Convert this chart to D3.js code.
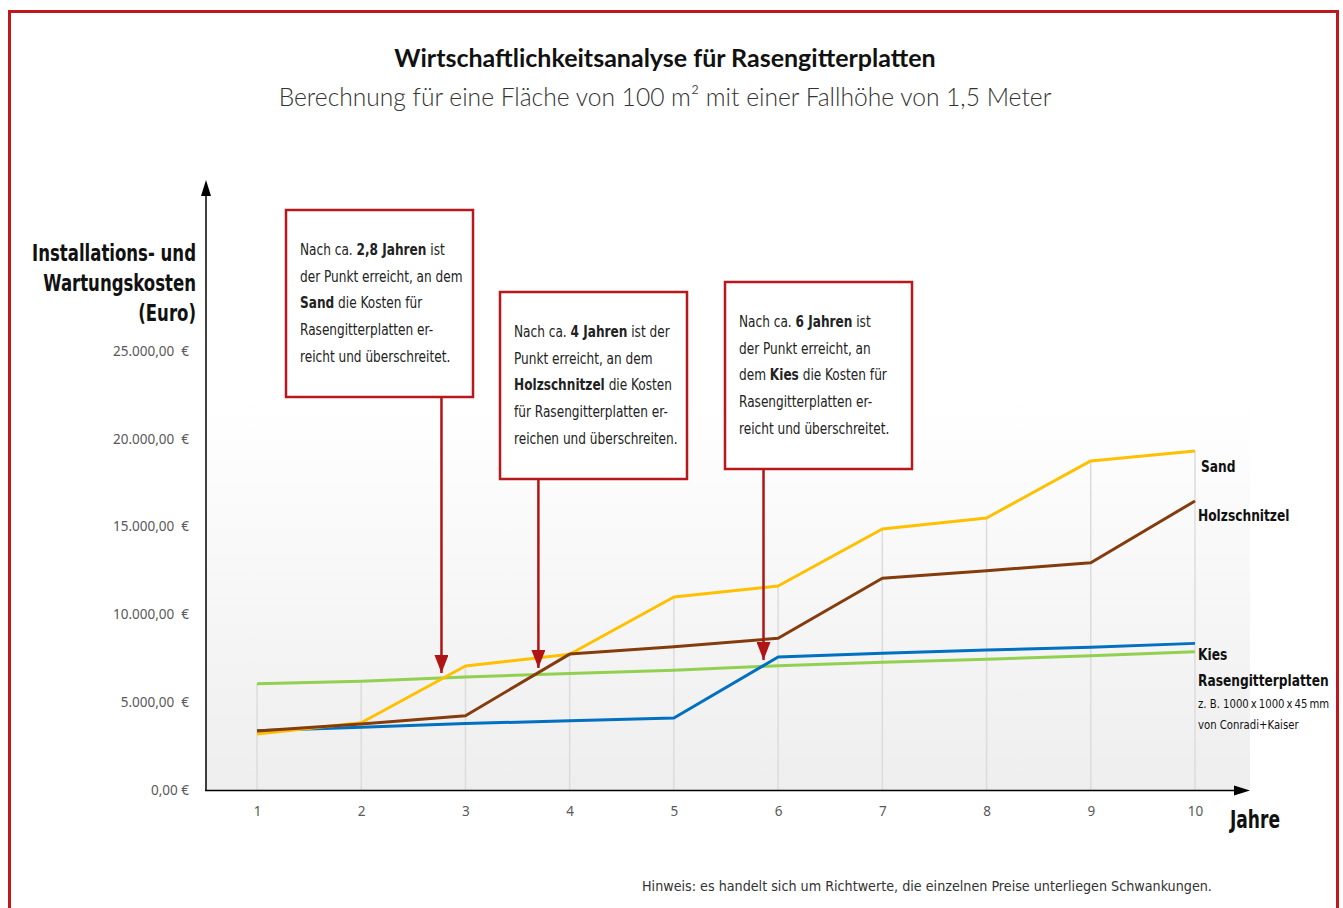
<!DOCTYPE html>
<html>
<head>
<meta charset="utf-8">
<script src="https://cdn.jsdelivr.net/npm/d3@7"></script>
<style>
  body { margin: 0; background: #fff; }
  svg { display: block; }
  .cond { font-family: "DejaVu Sans Condensed", "DejaVu Sans", sans-serif; }
</style>
</head>
<body>
<div id="chart"></div>
<script>
var width = 1343;
var height = 908;

// data
const years = [1, 2, 3, 4, 5, 6, 7, 8, 9, 10];
const sand = [3190, 3830, 7060, 7730, 10990, 11620, 14860, 15490, 18740, 19300];
const holz = [3360, 3760, 4230, 7740, 8160, 8640, 12060, 12490, 12940, 16460];
const kies = [3380, 3570, 3780, 3950, 4100, 7570, 7790, 7970, 8130, 8350];
const rasen = [6050, 6190, 6430, 6640, 6820, 7080, 7270, 7440, 7650, 7880];
const yTicks = [0, 5000, 10000, 15000, 20000, 25000];

const seriesNames = ["Rasengitterplatten", "Kies", "Sand", "Holzschnitzel"];
const seriesColors = ["#92d050", "#0070c0", "#ffc000", "#843c0c"];
const seriesValues = [rasen, kies, sand, holz];

// annotation arrows: year and value where the arrow tip points
const arrowYears = [2.77, 3.7, 5.86];
const arrowValues = [6660, 6950, 7400];
const boxTexts = [
  [[["Nach ca. ", 0], ["2,8 Jahren", 1], [" ist", 0]],
   [["der Punkt erreicht, an dem", 0]],
   [["Sand", 1], [" die Kosten für", 0]],
   [["Rasengitterplatten er-", 0]],
   [["reicht und überschreitet.", 0]]],
  [[["Nach ca. ", 0], ["4 Jahren", 1], [" ist der", 0]],
   [["Punkt erreicht, an dem", 0]],
   [["Holzschnitzel", 1], [" die Kosten", 0]],
   [["für Rasengitterplatten er-", 0]],
   [["reichen und überschreiten.", 0]]],
  [[["Nach ca. ", 0], ["6 Jahren", 1], [" ist", 0]],
   [["der Punkt erreicht, an", 0]],
   [["dem ", 0], ["Kies", 1], [" die Kosten für", 0]],
   [["Rasengitterplatten er-", 0]],
   [["reicht und überschreitet.", 0]]]
];
const boxPos = [[286, 210], [500, 292], [725, 282]];
const boxW = 187, boxH = 187;

const x = d3.scaleLinear().domain([1, 10]).range([257, 1195]);
const y = d3.scaleLinear().domain([0, 25000]).range([790, 351]);

const svg = d3.select("#chart")
    .append("svg")
    .attr("width", width)
    .attr("height", height);

const defs = svg.append("defs");
const grad = defs.append("linearGradient")
    .attr("id", "bg").attr("x1", 0).attr("y1", 0).attr("x2", 0).attr("y2", 1);
grad.append("stop").attr("offset", "0%").attr("stop-color", "#ffffff");
grad.append("stop").attr("offset", "100%").attr("stop-color", "#eeeeee");

defs.append("marker")
    .attr("id", "redhead")
    .attr("viewBox", "0 0 18 14")
    .attr("refX", 18).attr("refY", 7)
    .attr("markerWidth", 18).attr("markerHeight", 14)
    .attr("markerUnits", "userSpaceOnUse")
    .attr("orient", "auto")
    .append("path").attr("d", "M0,0 L18,7 L0,14 Z").attr("fill", "#b01515");

// condensed text helper: x,y position then squeeze horizontally
function squeeze(sel, tx, ty, s) {
  return sel.attr("transform", "translate(" + tx + "," + ty + ") scale(" + s + ",1)");
}

// frame
svg.append("rect")
    .attr("x", 9.5).attr("y", 11.5)
    .attr("width", 1328).attr("height", 1000)
    .attr("fill", "none")
    .attr("stroke", "#c0171d")
    .attr("stroke-width", 3);

// titles
svg.append("text")
    .attr("x", 665).attr("y", 67)
    .attr("text-anchor", "middle")
    .style("font-family", "Lato, sans-serif")
    .style("font-weight", "bold")
    .style("font-size", "25px")
    .attr("fill", "#111")
    .text("Wirtschaftlichkeitsanalyse für Rasengitterplatten");

svg.append("text")
    .attr("x", 665).attr("y", 106)
    .attr("text-anchor", "middle")
    .style("font-family", "Lato, sans-serif")
    .style("font-weight", 300)
    .style("font-size", "24.6px")
    .attr("fill", "#333")
    .text("Berechnung für eine Fläche von 100 m² mit einer Fallhöhe von 1,5 Meter");

// plot background
svg.append("rect")
    .attr("x", 206).attr("y", 400)
    .attr("width", 1250 - 206).attr("height", 790 - 400)
    .attr("fill", "url(#bg)");

// drop lines from the top series down to the axis
svg.append("g").selectAll("line")
    .data(years)
    .join("line")
    .attr("x1", d => x(d)).attr("x2", d => x(d))
    .attr("y1", (d, i) => y(d3.max(seriesValues, s => s[i])))
    .attr("y2", y(0))
    .attr("stroke", "#dcdcdc")
    .attr("stroke-width", 1.5);

// axes
const fmt = d3.formatLocale({decimal: ",", thousands: ".", grouping: [3], currency: ["", ""]}).format(",.2f");
const yAxis = svg.append("g")
    .attr("transform", "translate(189,0)")
    .call(d3.axisLeft(y).tickValues(yTicks).tickSize(0).tickPadding(0)
        .tickFormat(d => fmt(d) + (d === 0 ? "\u00a0€" : "\u00a0\u00a0€")));
yAxis.select(".domain").remove();
yAxis.selectAll("text")
    .style("font-family", "'Noto Sans', sans-serif")
    .style("font-size", "13.5px")
    .attr("fill", "#595959");

const xAxis = svg.append("g")
    .attr("transform", "translate(0,806)")
    .call(d3.axisBottom(x).tickValues(years).tickSize(0).tickPadding(0));
xAxis.select(".domain").remove();
xAxis.selectAll("text")
    .style("font-family", "'Noto Sans', sans-serif")
    .style("font-size", "13.5px")
    .attr("fill", "#595959");

// axis lines with arrows
svg.append("line")
    .attr("x1", 206).attr("y1", 791).attr("x2", 206).attr("y2", 185)
    .attr("stroke", "#000").attr("stroke-width", 1.5);
svg.append("path").attr("d", "M206,180 L201,196 L211,196 Z").attr("fill", "#000");
svg.append("line")
    .attr("x1", 205).attr("y1", 790.5).attr("x2", 1240).attr("y2", 790.5)
    .attr("stroke", "#000").attr("stroke-width", 1.5);
svg.append("path").attr("d", "M1250,790.5 L1234,785.5 L1234,795.5 Z").attr("fill", "#000");

// series lines
const line = d3.line()
    .x((d, i) => x(years[i]))
    .y(d => y(d));

svg.append("g").selectAll("path")
    .data(seriesValues)
    .join("path")
    .attr("fill", "none")
    .attr("stroke", (d, i) => seriesColors[i])
    .attr("stroke-width", 3)
    .attr("stroke-linejoin", "round")
    .attr("d", d => line(d));

// axis titles
const yTitle = squeeze(svg.append("text"), 196, 0, 0.8)
    .attr("class", "cond")
    .attr("text-anchor", "end")
    .style("font-weight", "bold")
    .style("font-size", "23px")
    .attr("fill", "#111");
["Installations- und", "Wartungskosten", "(Euro)"].forEach((t, i) => {
  yTitle.append("tspan").attr("x", 0).attr("y", 261 + i * 30).text(t);
});

squeeze(svg.append("text"), 1230, 828, 0.76)
    .attr("class", "cond")
    .style("font-weight", "bold")
    .style("font-size", "25px")
    .attr("fill", "#111")
    .text("Jahre");

// series labels on the right
const rightLabels = [
  ["Sand", 1201, 472, "bold", 16, 0.85],
  ["Holzschnitzel", 1198, 521, "bold", 16, 0.85],
  ["Kies", 1198, 660, "bold", 16, 0.85],
  ["Rasengitterplatten", 1198, 686, "bold", 16, 0.85],
  ["z. B. 1000\u2009x\u20091000\u2009x\u200945\u2009mm", 1198, 708, "normal", 12.5, 0.9],
  ["von Conradi+Kaiser", 1198, 729, "normal", 12.5, 0.9]
];
svg.append("g").selectAll("text")
    .data(rightLabels)
    .join("text")
    .attr("class", "cond")
    .attr("transform", d => "translate(" + d[1] + "," + d[2] + ") scale(" + d[5] + ",1)")
    .style("font-weight", d => d[3])
    .style("font-size", d => d[4] + "px")
    .attr("fill", "#111")
    .text(d => d[0]);

// annotation boxes and arrows
const ann = svg.append("g").selectAll("g")
    .data(boxTexts)
    .join("g");

ann.append("line")
    .attr("x1", (d, i) => x(arrowYears[i]))
    .attr("x2", (d, i) => x(arrowYears[i]))
    .attr("y1", (d, i) => boxPos[i][1] + boxH)
    .attr("y2", (d, i) => y(arrowValues[i]))
    .attr("stroke", "#b01515")
    .attr("stroke-width", 2.5)
    .attr("marker-end", "url(#redhead)");

ann.append("rect")
    .attr("x", (d, i) => boxPos[i][0])
    .attr("y", (d, i) => boxPos[i][1])
    .attr("width", boxW).attr("height", boxH)
    .attr("fill", "#fff")
    .attr("stroke", "#b8171c")
    .attr("stroke-width", 2.5);

ann.each(function(lines, i) {
  const t = squeeze(d3.select(this).append("text"), boxPos[i][0] + 14, boxPos[i][1], 0.9)
      .attr("class", "cond")
      .style("font-size", "15px")
      .attr("fill", "#222");
  lines.forEach((segs, j) => {
    segs.forEach((s, k) => {
      const ts = t.append("tspan").text(s[0]).style("font-weight", s[1] ? "bold" : "normal");
      if (k === 0) ts.attr("x", 0).attr("y", 45 + j * 26.7);
    });
  });
});

// footnote
svg.append("text")
    .attr("class", "cond")
    .attr("x", 642).attr("y", 891)
    .style("font-size", "14.2px")
    .attr("fill", "#333")
    .text("Hinweis: es handelt sich um Richtwerte, die einzelnen Preise unterliegen Schwankungen.");
</script>
</body>
</html>
